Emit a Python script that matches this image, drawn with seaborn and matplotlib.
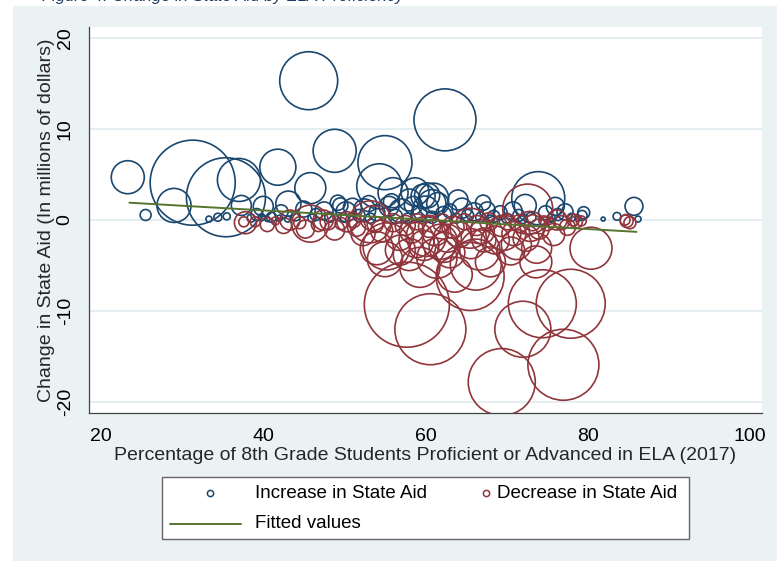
import numpy as np
import pandas as pd
import matplotlib
matplotlib.use("Agg")
import matplotlib.pyplot as plt
from matplotlib.patches import Rectangle
from matplotlib.lines import Line2D
import seaborn as sns

# ---- districts with an increase in state aid: ELA proficiency, change ($M), weight
inc_x = [45.6, 62.4, 23.3, 31.3, 35.4, 37.0, 29.0, 25.5, 41.8, 48.8, 55.0, 45.8,
         54.3, 56.0, 58.7, 40.0, 43.1, 49.2, 59.7, 37.3, 33.3, 34.4, 35.5, 73.9,
         85.7, 83.6, 81.9, 79.3, 86.2, 60.2, 67.1, 49.5,
         38.5, 39.2, 41.0, 42.2, 44.0, 45.0, 46.5, 47.5, 48.2, 50.2, 51.0, 51.8,
         52.5, 53.2, 54.0, 55.5, 56.3, 57.0, 57.8, 58.5, 59.2, 60.0, 60.8, 61.5,
         62.2, 63.0, 63.8, 64.5, 65.2, 66.0, 66.8, 67.6, 68.4, 69.2, 70.0, 70.8,
         71.5, 72.3, 73.0, 74.8, 75.5, 76.3, 77.2, 78.0, 78.8, 64.0, 58.0, 55.8,
         61.0, 53.0, 50.0, 46.0, 43.0, 40.5, 42.0, 39.8, 68.0, 72.0, 76.0, 79.5,
         60.8]
inc_y = [15.3, 11.0, 4.7, 4.1, 2.5, 4.4, 1.6, 0.55, 5.8, 7.6, 6.3, 3.5,
         3.7, 3.0, 3.1, 1.5, 1.8, 1.9, 2.6, 1.6, 0.1, 0.3, 0.4, 2.4,
         1.5, 0.4, 0.1, 0.5, 0.1, 2.7, 1.9, 1.6,
         0.2, 0.6, 0.3, 0.9, 0.4, 1.2, 0.6, 1.0, 0.3, 0.9, 1.4, 0.5,
         1.1, 0.2, 0.8, 1.5, 0.4, 1.0, 0.2, 1.6, 0.7, 1.2, 0.3, 1.8,
         0.6, 1.0, 0.2, 1.3, 0.5, 0.9, 0.3, 1.1, 0.4, 0.8, 0.2, 1.0,
         0.5, 1.6, 0.3, 0.8, 0.2, 0.6, 0.9, 0.3, 0.2, 2.2, 2.2, 2.0,
         2.4, 1.8, 0.2, 0.2, 0.1, 0.1, 0.2, 0.3, 0.1, 0.1, 1.5, 0.8,
         1.8]
inc_w = [33.6, 38.4, 10.9, 72.3, 62.4, 18.5, 11.6, 1.2, 13.0, 18.5, 29.2, 9.6,
         20.3, 9.0, 7.8, 4.0, 6.3, 2.3, 5.8, 4.0, 0.36, 0.64, 0.5, 28.1,
         3.2, 0.6, 0.16, 1.0, 0.36, 6.3, 2.3, 2.3,
         0.64, 1.44, 1.0, 1.96, 0.81, 2.56, 1.44, 3.24, 1.0, 4.0, 3.24, 1.44,
         4.84, 1.0, 2.56, 4.0, 1.96, 5.76, 1.0, 3.24, 2.56, 6.76, 1.44, 4.84,
         2.56, 1.96, 1.0, 4.0, 1.44, 3.24, 1.0, 2.56, 1.44, 1.96, 1.0, 3.24,
         1.44, 4.84, 1.0, 1.96, 0.64, 1.44, 2.56, 0.64, 0.36, 4.0, 4.84, 2.56,
         9.0, 2.56, 0.64, 0.64, 0.36, 0.25, 0.36, 0.49, 0.64, 0.81, 3.24, 1.44,
         7.84]

# ---- districts with a decrease in state aid
dec_x = [57.7, 60.6, 65.5, 66.2, 74.4, 77.9, 72.0, 77.0, 69.4, 80.4, 73.6, 73.7,
         54.0, 55.2, 58.9, 61.8, 66.7, 71.2, 72.6, 60.1, 65.5, 69.6, 72.9, 76.2,
         78.2, 84.8, 50.3, 53.5, 37.8, 37.6, 45.8, 53.2, 43.3, 47.4, 51.1, 61.4,
         63.6, 68.0, 56.9, 55.0,
         39.0, 40.5, 41.5, 42.5, 44.5, 45.2, 46.8, 48.0, 48.8, 49.6, 51.5, 52.3,
         53.8, 54.6, 56.0, 56.8, 57.5, 58.3, 59.0, 59.8, 60.5, 61.2, 62.0, 62.7,
         63.4, 64.1, 64.8, 65.6, 66.3, 67.0, 67.8, 68.6, 69.3, 70.1, 70.9, 71.6,
         72.4, 73.2, 74.0, 75.0, 75.8, 76.8, 77.5, 78.6, 79.2, 85.2, 84.6, 74.6,
         63.0, 70.5, 58.0, 67.2, 59.3, 62.3]
dec_y = [-9.3, -12.0, -6.2, -4.9, -9.2, -9.2, -12.0, -15.9, -17.8, -3.1, -4.6, -3.1,
         -3.1, -2.9, -2.2, -2.4, -3.3, -2.7, 1.2, -1.8, -0.9, -1.4, -0.7, 0.0,
         0.0, -0.1, -0.2, 0.2, -0.3, -0.2, -0.4, -0.2, 0.0, 0.0, 0.0, -4.2,
         -6.0, -4.6, -3.3, -4.3,
         -0.2, -0.5, -0.1, -0.6, -0.3, -1.0, -0.5, -0.2, -1.1, -0.4, -0.8, -1.5,
         -0.5, -1.2, -0.3, -1.8, -0.6, -1.2, -0.2, -2.8, -0.7, -1.4, -0.3, -2.0,
         -0.8, -1.6, -0.2, -2.6, -0.6, -1.3, -0.2, -2.2, -0.7, -0.2, -1.5, -0.4,
         -2.0, -0.3, -1.0, -0.4, -1.6, -0.3, -0.8, -0.2, -0.1, -0.3, 0.0, -0.1,
         -3.6, -3.4, -3.8, -2.2, -5.2, -3.0]
dec_w = [72.3, 50.4, 46.2, 26.0, 46.2, 47.6, 31.4, 50.4, 44.9, 17.6, 10.2, 9.0,
         10.9, 22.1, 12.3, 12.3, 16.0, 9.0, 25.0, 16.0, 16.0, 12.3, 9.0, 4.0,
         1.44, 1.69, 4.0, 6.3, 4.84, 1.0, 13.7, 17.6, 4.0, 4.0, 2.3, 16.0,
         12.3, 9.0, 9.0, 12.3,
         1.0, 1.96, 0.64, 2.56, 1.44, 3.24, 1.96, 2.56, 4.0, 1.44, 3.24, 5.76,
         2.56, 4.84, 3.24, 7.84, 4.0, 5.76, 2.56, 9.0, 4.84, 6.76, 3.24, 7.84,
         4.84, 6.76, 2.56, 9.0, 4.0, 5.76, 3.24, 7.84, 4.0, 2.56, 5.76, 3.24,
         6.76, 2.56, 4.0, 1.96, 4.84, 1.96, 2.56, 1.44, 1.0, 1.44, 1.0, 1.0,
         9.0, 7.84, 10.2, 5.76, 16.0, 9.0]

# ---- linear fit (fitted values at the ends of the data range)
fit_x = [23.5, 86.0]
fit_y = [1.9, -1.3]

x_ticks = [20, 40, 60, 80, 100]
y_ticks = [-20, -10, 0, 10, 20]

BLUE = "#1A476F"
RED = "#90353B"
GREEN = "#55752F"
BG = "#EAF2F3"
W, H = 777, 561
FS = 14

inc = pd.DataFrame({"ela": inc_x, "change": inc_y, "weight": inc_w})
dec = pd.DataFrame({"ela": dec_x, "change": dec_y, "weight": dec_w})
fit = pd.DataFrame({"ela": fit_x, "fitted": fit_y})

sns.set_theme(style="white")
plt.rcParams["font.family"] = ["Liberation Sans", "DejaVu Sans"]
plt.rcParams["axes.unicode_minus"] = False

fig = plt.figure(figsize=(W / 100, H / 100), dpi=100, facecolor="white")
fig.patches.append(Rectangle((13 / W, 0), 1, 1 - 6 / H, transform=fig.transFigure,
                             facecolor=BG, edgecolor="none", zorder=-10))

# caption of the page, running off the top edge
fig.text(42 / W, 1 - 1.0 / H, "Figure 4: Change in State Aid by ELA Proficiency",
         color="#1F3864", fontsize=12, style="italic", ha="left", va="baseline")

ax = fig.add_axes([89 / W, 1 - 413 / H, (762 - 89) / W, (413 - 27) / H])
ax.set_facecolor("white")

size_kw = dict(size="weight", sizes=(0, 5184), size_norm=(0, 100), legend=False)
sns.scatterplot(data=inc, x="ela", y="change", ax=ax, color=BLUE, facecolor="none",
                edgecolor=BLUE, linewidth=1.2, zorder=3, **size_kw)
sns.scatterplot(data=dec, x="ela", y="change", ax=ax, color=RED, facecolor="none",
                edgecolor=RED, linewidth=1.2, zorder=4, **size_kw)
sns.lineplot(data=fit, x="ela", y="fitted", ax=ax, color=GREEN, linewidth=1.4, zorder=5)

ax.set_xlim(18.52, 101.48)
ax.set_ylim(-21.2, 21.2)
ax.set_xticks(x_ticks)
ax.set_yticks(y_ticks)
ax.grid(axis="y", color="#E3EDEF", linewidth=1.3, zorder=0)
ax.set_axisbelow(True)
for s in ["top", "right"]:
    ax.spines[s].set_visible(False)
for s in ["left", "bottom"]:
    ax.spines[s].set_color("#444444")
    ax.spines[s].set_linewidth(0.9)
ax.tick_params(axis="both", length=4, width=0.9, color="#444444", labelsize=FS,
               labelcolor="black", direction="out")
ax.tick_params(axis="y", pad=7)
ax.tick_params(axis="x", pad=7)
plt.setp(ax.get_yticklabels(), rotation=90, va="center")
ax.set_xlabel("Percentage of 8th Grade Students Proficient or Advanced in ELA (2017)",
              fontsize=FS, labelpad=1)
ax.set_ylabel("Change in State Aid (In millions of dollars)", fontsize=FS, labelpad=1)

# legend box
fig.patches.append(Rectangle((162 / W, 1 - 539 / H), (689 - 162) / W, (539 - 477) / H,
                             transform=fig.transFigure, facecolor="white",
                             edgecolor="#666666", linewidth=1.0, zorder=1))
def fx(px):
    return px / W
def fy(py):
    return 1 - py / H
fig.add_artist(Line2D([fx(210)], [fy(493)], marker="o", markersize=4.5, markerfacecolor="none",
                      markeredgecolor=BLUE, markeredgewidth=1.1, linestyle="none"))
fig.add_artist(Line2D([fx(486)], [fy(493)], marker="o", markersize=4.5, markerfacecolor="none",
                      markeredgecolor=RED, markeredgewidth=1.1, linestyle="none"))
fig.add_artist(Line2D([fx(170), fx(241)], [fy(524), fy(524)], color=GREEN, linewidth=1.4))
leg_kw = dict(fontsize=13.5, va="center", ha="left", color="black")
fig.text(fx(255), fy(493), "Increase in State Aid", **leg_kw)
fig.text(fx(497), fy(493), "Decrease in State Aid", **leg_kw)
fig.text(fx(255), fy(523), "Fitted values", **leg_kw)

fig.savefig("out.png", dpi=100, facecolor="white")
